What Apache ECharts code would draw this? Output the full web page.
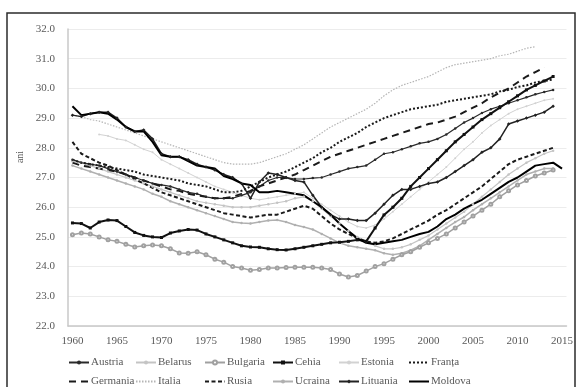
<!DOCTYPE html>
<html>
<head>
<meta charset="utf-8">
<script src="https://cdn.jsdelivr.net/npm/echarts@6/dist/echarts.min.js"></script>
<style>
  html, body { margin: 0; padding: 0; background: #fff; }
  #chart { width: 576px; height: 387px; }
</style>
</head>
<body>
<div id="chart"></div>
<script>
// Years on the category axis
const years = [];
for (let y = 1960; y <= 2015; y++) years.push(String(y));

// Mean age (ani), one value per year starting 1960; null = no data
const austria = [27.6,27.5,27.45,27.4,27.3,27.2,27.1,27.0,26.9,26.8,26.75,26.7,26.6,26.5,26.45,26.35,26.3,26.3,26.3,26.4,26.5,26.7,26.9,27.0,27.0,26.95,26.95,26.98,27.0,27.1,27.2,27.3,27.35,27.4,27.6,27.8,27.85,27.95,28.05,28.15,28.2,28.3,28.45,28.65,28.85,29.0,29.17,29.3,29.4,29.5,29.6,29.7,29.8,29.88,29.95,null];
const belarus = [27.55,27.5,27.4,27.3,27.2,27.1,27.0,26.9,26.8,26.7,26.6,26.5,26.4,26.3,26.2,26.15,26.1,26.05,26.0,26.0,26.0,26.05,26.1,26.15,26.2,26.3,26.35,26.2,25.95,25.7,25.45,25.2,25.0,24.85,24.7,24.6,24.6,24.65,24.75,24.9,25.05,25.25,25.45,25.65,25.85,26.1,26.35,26.6,26.85,27.1,27.3,27.5,27.65,27.8,27.9,null];
const bulgaria = [25.07,25.13,25.1,25.0,24.9,24.85,24.75,24.66,24.7,24.73,24.7,24.6,24.46,24.45,24.5,24.4,24.25,24.15,24.0,23.95,23.88,23.9,23.95,23.95,23.97,23.98,23.98,23.98,23.95,23.9,23.75,23.65,23.7,23.85,24.0,24.1,24.25,24.4,24.5,24.65,24.8,24.95,25.1,25.3,25.5,25.7,25.9,26.1,26.35,26.55,26.75,26.9,27.05,27.15,27.25,null];
const cehia = [25.47,25.45,25.3,25.5,25.57,25.55,25.35,25.15,25.05,25.0,24.98,25.13,25.2,25.25,25.23,25.1,25.0,24.9,24.8,24.7,24.66,24.65,24.6,24.57,24.56,24.6,24.65,24.7,24.75,24.8,24.82,24.85,24.9,24.85,25.3,25.74,26.0,26.3,26.7,27.0,27.3,27.6,27.9,28.2,28.45,28.7,28.95,29.15,29.35,29.55,29.75,29.95,30.1,30.25,30.4,null];
const estonia = [null,null,null,28.45,28.4,28.3,28.25,28.1,27.95,27.85,27.6,27.45,27.3,27.15,27.0,26.85,26.7,26.6,26.5,26.4,26.3,26.25,26.3,26.35,26.4,26.45,26.5,26.3,26.1,25.9,25.7,25.5,25.35,25.3,25.4,25.6,25.85,26.1,26.35,26.6,26.85,27.1,27.35,27.65,27.95,28.2,28.5,28.75,28.95,29.15,29.3,29.4,29.5,29.6,29.65,null];
const franta = [27.6,27.5,27.45,27.4,27.35,27.3,27.25,27.2,27.1,27.05,27.0,26.95,26.9,26.8,26.75,26.7,26.6,26.5,26.5,26.55,26.7,26.85,27.0,27.1,27.2,27.35,27.5,27.65,27.85,28.0,28.2,28.35,28.5,28.7,28.85,29.0,29.1,29.2,29.3,29.35,29.4,29.45,29.55,29.6,29.65,29.7,29.75,29.8,29.9,29.95,30.05,30.1,30.2,30.25,30.3,null];
const germania = [27.5,27.4,27.35,27.3,27.25,27.2,27.1,27.0,26.9,26.8,26.7,26.6,26.55,26.45,26.4,26.35,26.3,26.3,26.35,26.45,26.55,26.7,26.8,26.9,27.0,27.1,27.25,27.4,27.55,27.7,27.8,27.9,28.0,28.1,28.2,28.3,28.4,28.5,28.6,28.7,28.8,28.85,28.95,29.05,29.2,29.35,29.5,29.7,29.85,30.0,30.2,30.4,30.55,30.7,null,null];
const italia = [29.1,29.05,28.95,28.9,28.8,28.7,28.6,28.5,28.4,28.3,28.2,28.1,28.0,27.9,27.8,27.7,27.6,27.5,27.45,27.45,27.45,27.5,27.6,27.7,27.8,27.95,28.1,28.3,28.5,28.7,28.85,29.0,29.15,29.3,29.5,29.75,29.95,30.1,30.2,30.3,30.4,30.55,30.7,30.8,30.85,30.9,30.95,31.0,31.1,31.15,31.25,31.35,31.4,null,null,null];
const rusia = [28.2,27.8,27.65,27.5,27.4,27.25,27.1,26.95,26.8,26.65,26.5,26.4,26.3,26.2,26.1,26.0,25.9,25.8,25.75,25.7,25.65,25.7,25.75,25.75,25.85,25.95,26.05,25.95,25.7,25.45,25.25,25.1,24.95,24.85,24.8,24.85,24.95,25.1,25.25,25.4,25.55,25.75,25.9,26.1,26.3,26.5,26.7,26.95,27.2,27.45,27.6,27.7,27.8,27.9,28.0,null];
const ucraina = [27.4,27.3,27.2,27.1,27.0,26.9,26.8,26.7,26.6,26.45,26.35,26.2,26.1,26.0,25.9,25.8,25.7,25.6,25.5,25.47,25.45,25.5,25.55,25.57,25.5,25.4,25.33,25.25,25.1,24.95,24.8,24.7,24.65,24.6,24.55,24.45,24.4,24.45,24.55,24.7,24.9,25.1,25.3,25.5,25.67,25.9,26.1,26.3,26.5,26.7,26.9,27.1,27.2,27.3,27.3,null];
const lituania = [29.1,29.05,29.15,29.2,29.2,29.0,28.7,28.55,28.6,28.3,27.8,27.7,27.7,27.6,27.45,27.35,27.25,27.1,27.0,26.8,26.3,26.85,27.15,27.1,27.0,26.9,26.85,26.4,26.0,25.75,25.6,25.6,25.55,25.55,25.8,26.1,26.4,26.6,26.6,26.7,26.8,26.85,27.0,27.2,27.4,27.6,27.85,28.0,28.3,28.8,28.9,29.0,29.1,29.2,29.4,null];
const moldova = [29.4,29.1,29.15,29.2,29.15,28.95,28.7,28.55,28.55,28.2,27.75,27.7,27.7,27.55,27.4,27.35,27.3,27.05,26.95,26.8,26.75,26.5,26.5,26.55,26.5,26.45,26.4,26.2,26.0,25.75,25.45,25.2,24.95,24.8,24.75,24.8,24.85,24.9,25.0,25.1,25.17,25.35,25.6,25.75,25.95,26.1,26.25,26.45,26.65,26.85,27.0,27.2,27.4,27.45,27.5,27.3];

// y-axis range and step
const yMin = 22, yMax = 32, yStep = 1;

const FONT = "'Liberation Serif', 'DejaVu Serif', serif";
const TXT = '#595959';

function line(name, data, color, width, type, symbol, size) {
  return {
    name, type: 'line', data,
    lineStyle: { color, width, type: type || 'solid' },
    itemStyle: { color },
    symbol: symbol || 'none',
    symbolSize: size || 0,
    showSymbol: !!symbol,
    connectNulls: false,
    emphasis: { disabled: true }
  };
}

const series = [
  line('Estonia', estonia, '#d2d2d2', 1, 'solid', 'circle', 2),
  line('Italia', italia, '#b5b5b5', 1.2, [1.5, 1.5]),
  line('Belarus', belarus, '#c4c4c4', 1.2, 'solid', 'circle', 2.5),
  line('Ucraina', ucraina, '#b0b0b0', 1.5, 'solid', 'circle', 2.5),
  line('Bulgaria', bulgaria, '#a0a0a0', 1.5, 'solid', 'emptyCircle', 3),
  line('Austria', austria, '#2a2a2a', 1.2, 'solid', 'circle', 2.5),
  line('Franța', franta, '#1a1a1a', 2, [2, 2]),
  line('Germania', germania, '#1a1a1a', 2, [7, 5]),
  line('Rusia', rusia, '#1a1a1a', 2, [4, 2.5]),
  line('Lituania', lituania, '#222', 1.5, 'solid', 'diamond', 3.5),
  line('Cehia', cehia, '#111', 2, 'solid', 'rect', 3),
  line('Moldova', moldova, '#000', 2)
];

// series drawn as plain strokes carry no marker in the legend either
const noMarker = new Set(['Italia', 'Franța', 'Germania', 'Rusia', 'Moldova']);

// legend: two rows of six entries, one component per entry
const legendRows = [
  ['Austria', 'Belarus', 'Bulgaria', 'Cehia', 'Estonia', 'Franța'],
  ['Germania', 'Italia', 'Rusia', 'Ucraina', 'Lituania', 'Moldova']
];
const colLeft = [68, 135, 204, 272, 338, 408];
const rowTop = [357, 376];
const legends = [];
legendRows.forEach((row, r) => row.forEach((name, c) => legends.push({
  data: [noMarker.has(name) ? { name, itemStyle: { opacity: 0 } } : { name }],
  orient: 'horizontal',
  left: colLeft[c],
  top: rowTop[r],
  itemWidth: 20,
  itemHeight: 5,
  padding: 0,
  selectedMode: false,
  textStyle: { fontFamily: FONT, fontSize: 11, color: TXT, padding: [0, 0, 0, -3] }
})));

const chart = echarts.init(document.getElementById('chart'), null, { renderer: 'canvas' });
chart.setOption({
  animation: false,
  backgroundColor: '#fff',
  legend: legends,
  grid: { left: 68, right: 6, top: 29, bottom: 61, containLabel: false },
  xAxis: {
    type: 'category',
    data: years,
    boundaryGap: true,
    axisLine: { lineStyle: { color: '#c8c8c8', width: 1.5 } },
    axisTick: { show: false },
    axisLabel: { interval: 4, margin: 10, fontFamily: FONT, fontSize: 11, color: TXT },
    splitLine: { show: false }
  },
  yAxis: {
    type: 'value',
    min: yMin, max: yMax, interval: yStep,
    axisLine: { show: true, lineStyle: { color: '#c8c8c8', width: 1.5 } },
    axisTick: { show: false },
    axisLabel: { margin: 13, fontFamily: FONT, fontSize: 11, color: TXT, formatter: v => v.toFixed(1) },
    splitLine: { lineStyle: { color: '#ececec', width: 1 } }
  },
  graphic: [
    {
      type: 'rect', silent: true, z: 100,
      shape: { x: 7, y: 13, width: 568, height: 400 },
      style: { fill: null, stroke: '#2b2b2b', lineWidth: 1.5 }
    },
    {
      type: 'text', silent: true,
      x: 20, y: 157, rotation: Math.PI / 2,
      style: { text: 'ani', fontFamily: FONT, fontSize: 10, fill: TXT, align: 'center', verticalAlign: 'middle' }
    }
  ],
  series
});
</script>
</body>
</html>
